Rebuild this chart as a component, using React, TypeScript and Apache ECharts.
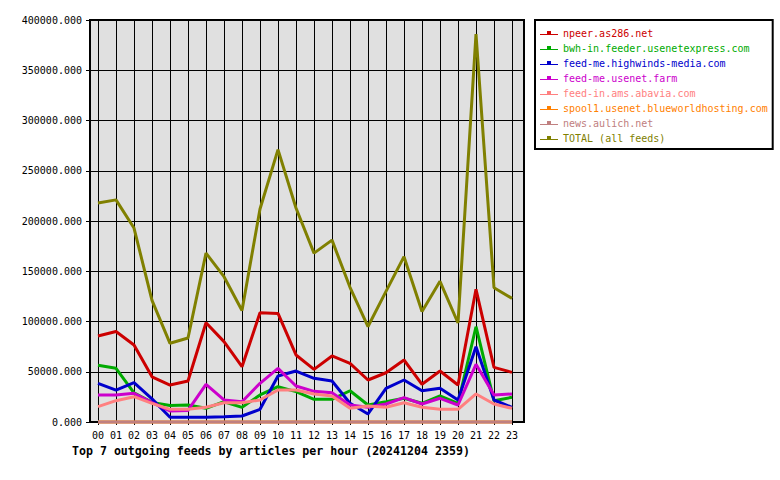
import React, { useEffect, useRef } from "react";
import * as echarts from "echarts";

const hours = ["00","01","02","03","04","05","06","07","08","09","10","11","12","13","14","15","16","17","18","19","20","21","22","23"];
const yTicks = [0, 50000, 100000, 150000, 200000, 250000, 300000, 350000, 400000];

const seriesNames = [
  "npeer.as286.net",
  "bwh-in.feeder.usenetexpress.com",
  "feed-me.highwinds-media.com",
  "feed-me.usenet.farm",
  "feed-in.ams.abavia.com",
  "spool1.usenet.blueworldhosting.com",
  "news.aulich.net",
  "TOTAL (all feeds)",
];
const seriesColors = ["#cc0000", "#00aa00", "#0000cc", "#cc00cc", "#ff8080", "#ff8000", "#c08080", "#808000"];

const npeer = [85500, 90000, 76600, 45000, 36800, 40800, 98800, 80000, 55000, 108800, 108000, 66700, 52400, 65700, 58400, 41800, 49000, 61700, 37500, 50700, 36800, 132000, 54400, 49400];
const bwh = [56400, 53400, 29000, 19500, 16500, 16900, 13600, 20200, 14600, 26900, 35100, 30200, 22600, 22600, 31100, 16900, 20200, 23600, 18600, 25900, 18600, 94800, 21200, 24600];
const highwinds = [38500, 31800, 39100, 23000, 4700, 4700, 4700, 5300, 6000, 12600, 45800, 50700, 43500, 40800, 18600, 8000, 33500, 41800, 31100, 33500, 21900, 74900, 21900, 14600];
const usenetFarm = [26900, 26900, 28500, 19200, 11000, 11500, 37500, 21900, 20200, 38500, 53400, 35800, 30500, 29200, 16900, 14600, 17900, 24200, 17900, 23600, 16900, 57400, 26900, 27900];
const abavia = [15300, 21200, 25200, 18600, 12600, 12600, 14600, 19200, 19200, 21900, 31800, 31800, 27900, 25900, 13600, 15900, 14600, 19200, 14600, 12600, 12600, 27900, 17900, 13600];
const blueworld = [0, 0, 0, 0, 0, 0, 0, 0, 0, 0, 0, 0, 0, 0, 0, 0, 0, 0, 0, 0, 0, 0, 0, 0];
const aulich = [0, 0, 0, 0, 0, 0, 0, 0, 0, 0, 0, 0, 0, 0, 0, 0, 0, 0, 0, 0, 0, 0, 0, 0];
const total = [218000, 221000, 193000, 121000, 78300, 83600, 168000, 144600, 111000, 212000, 271000, 213000, 168000, 181000, 134000, 95000, 130000, 164500, 110000, 140000, 98500, 386000, 133600, 123000];

const seriesData = [npeer, bwh, highwinds, usenetFarm, abavia, blueworld, aulich, total];

const FONT = "DejaVu Sans Mono";

export default function App() {
  const ref = useRef<HTMLDivElement>(null);
  useEffect(() => {
    if (!ref.current) return;
    const chart = echarts.init(ref.current, null, { renderer: "svg" });
    const yMin = yTicks[0];
    const yMax = yTicks[yTicks.length - 1];
    const yInterval = yTicks[1] - yTicks[0];
    chart.setOption({
      animation: false,
      backgroundColor: "#ffffff",
      title: {
        text: "Top 7 outgoing feeds by articles per hour (20241204 2359)",
        left: 72,
        top: 445,
        padding: 0,
        textStyle: { fontFamily: FONT, fontSize: 11.6, fontWeight: "bold", color: "#000" },
      },
      grid: [
        {
          left: 90, top: 20, width: 434, height: 402,
          show: true, backgroundColor: "#e0e0e0", borderColor: "#000", borderWidth: 2,
        },
        { left: 98, top: 20, width: 414, height: 402, show: false },
      ],
      xAxis: [
        { type: "value", gridIndex: 0, min: 0, max: 1, show: false },
        {
          type: "category", gridIndex: 1, data: hours, boundaryGap: false,
          axisLine: { show: false },
          axisTick: { show: true, length: 3, interval: 0, lineStyle: { color: "#000" } },
          axisLabel: { interval: 0, margin: 8, fontFamily: FONT, fontSize: 10, color: "#000" },
          splitLine: { show: true, interval: 0, lineStyle: { color: "#000", width: 1 } },
        },
      ],
      yAxis: [
        {
          type: "value", gridIndex: 0, min: yMin, max: yMax, interval: yInterval,
          axisLine: { show: false },
          axisTick: { show: true, length: 4, lineStyle: { color: "#000" } },
          axisLabel: { margin: 8, fontFamily: FONT, fontSize: 10, color: "#000", formatter: (v: number) => v.toFixed(3) },
          splitLine: { show: true, lineStyle: { color: "#000", width: 1 } },
        },
        { type: "value", gridIndex: 1, min: yMin, max: yMax, interval: yInterval, show: false, splitLine: { show: false } },
      ],
      legend: {
        orient: "vertical",
        left: 535,
        top: 20,
        borderColor: "#000",
        borderWidth: 2,
        padding: [8, 5, 6, 5],
        itemGap: 5,
        itemWidth: 18,
        itemHeight: 5,
        itemTextGap: 4,
        icon: "path://M0,4h18v1H0z M7,1h4v3H7z",
        textStyle: { fontFamily: FONT, fontSize: 10 },
        data: seriesNames.map((n, i) => ({ name: n, textStyle: { color: seriesColors[i] } })),
      },
      series: seriesNames.map((n, i) => ({
        name: n,
        type: "line",
        xAxisIndex: 1,
        yAxisIndex: 1,
        data: seriesData[i],
        showSymbol: false,
        symbol: "rect",
        clip: false,
        color: seriesColors[i],
        lineStyle: { color: seriesColors[i], width: 3 },
      })),
    });
    return () => chart.dispose();
  }, []);
  return (
    <div
      ref={ref}
      style={{ position: "fixed", left: 0, top: 0, width: 780, height: 480 }}
    />
  );
}
